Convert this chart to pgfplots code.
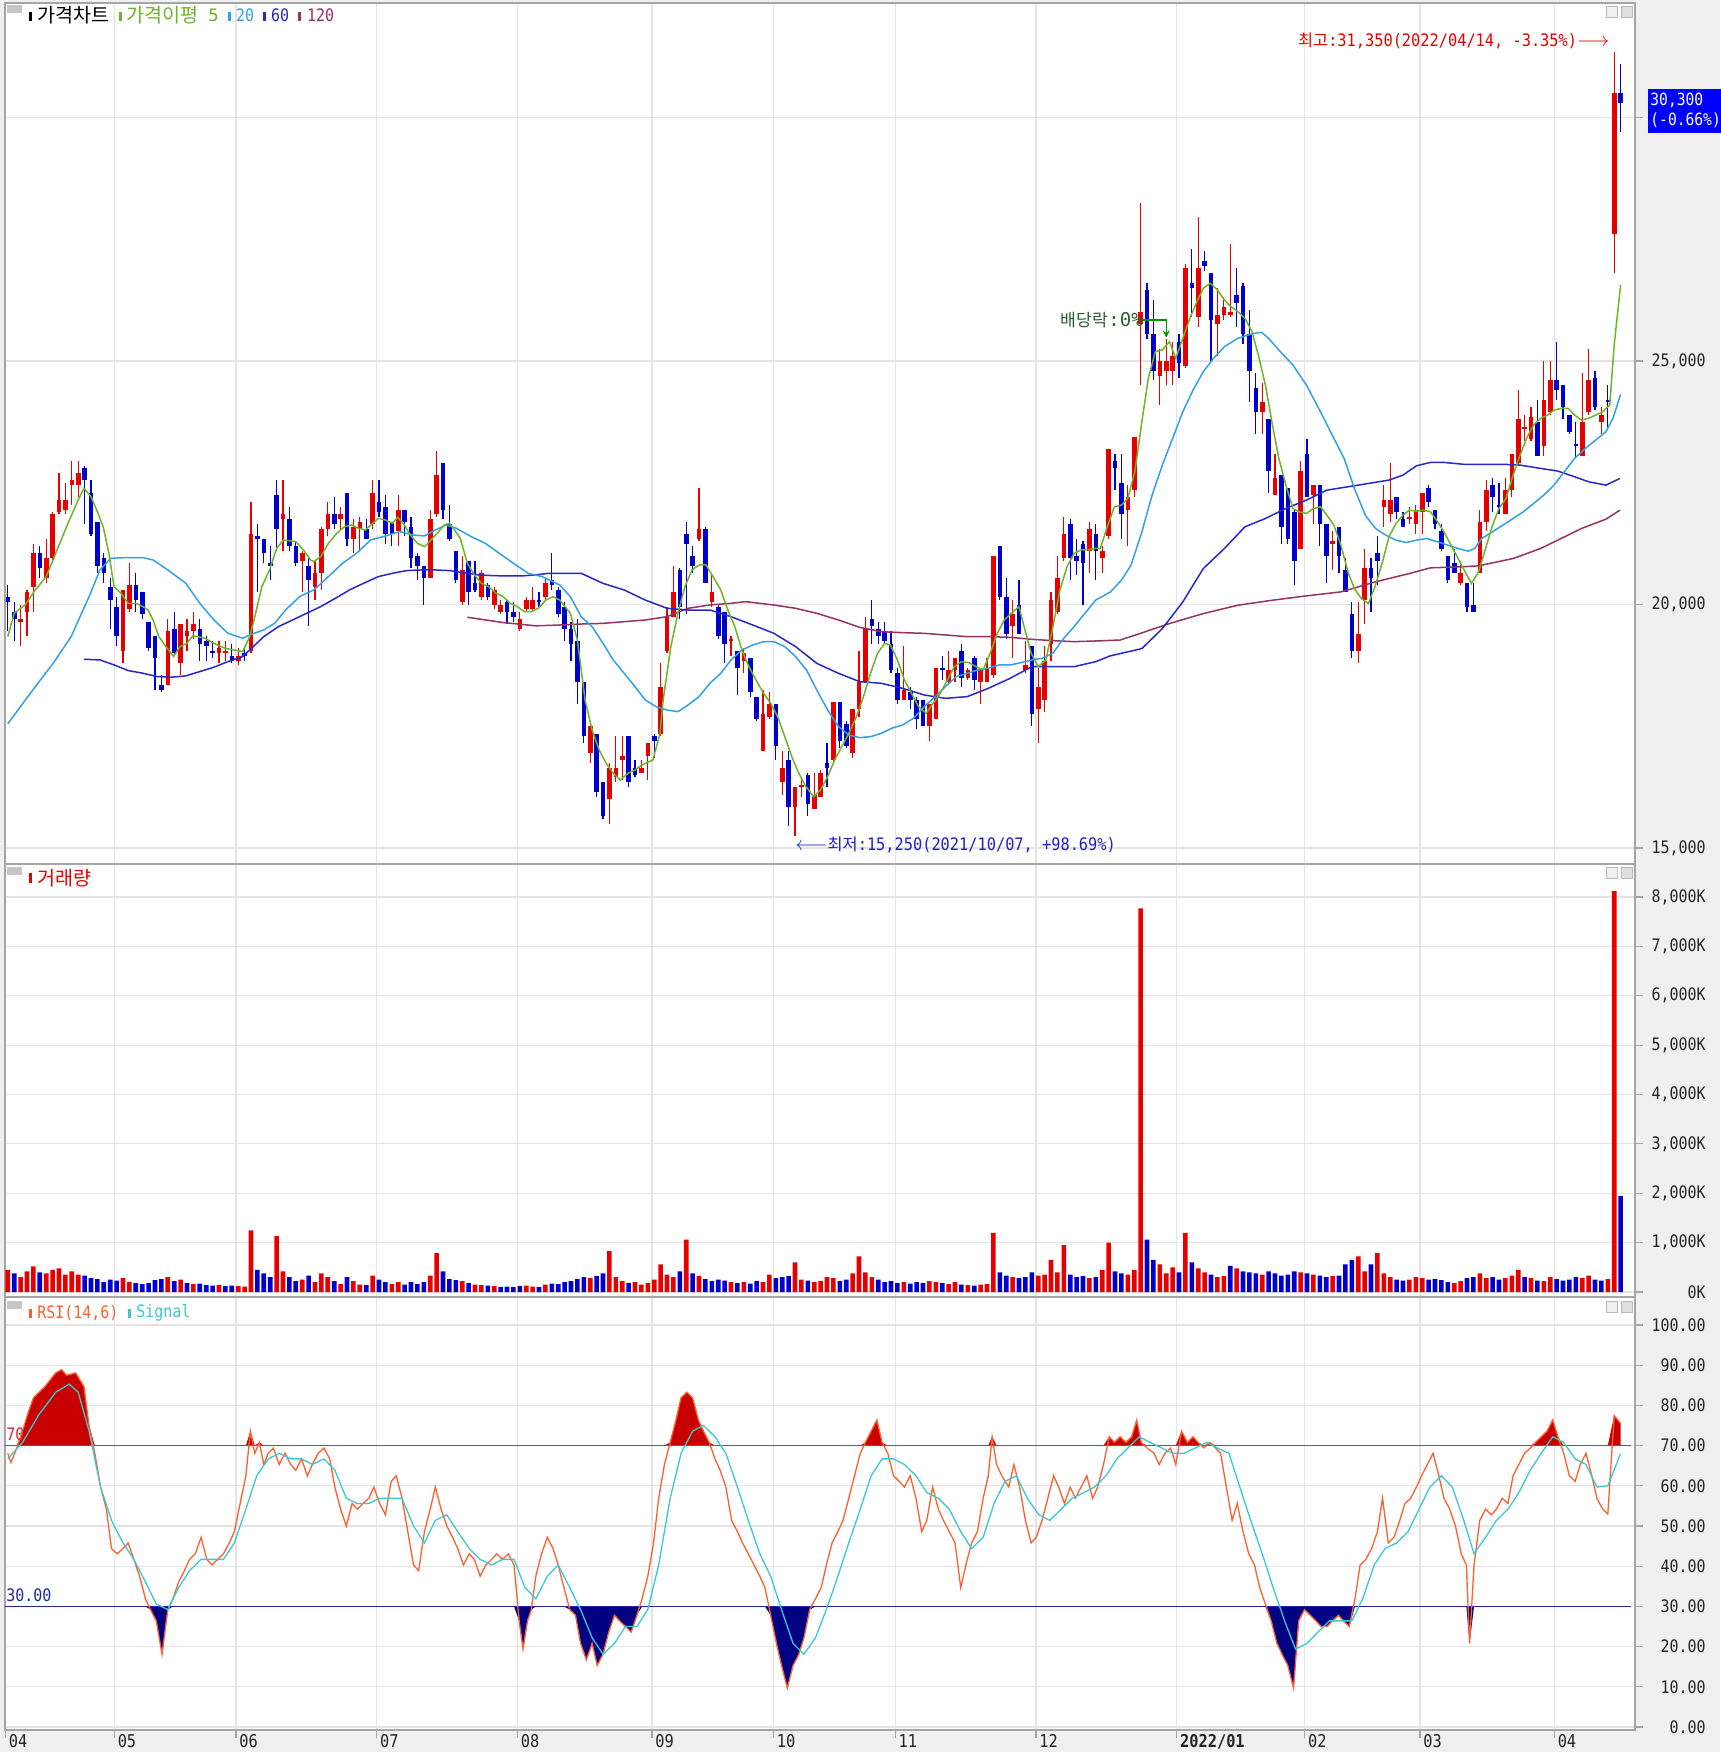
\documentclass[border=0pt]{standalone}
\usepackage{fontspec}
\usepackage{graphicx}
\usepackage{pgfplots}
\pgfplotsset{compat=1.18}
\usepackage{pgfplotstable}
\newfontfamily\kr{Noto Sans CJK KR}
\newfontfamily\mono{DejaVu Sans Mono}
\newcommand\fs[1]{\fontsize{#1}{#1}\selectfont}
\newcommand\nr[1]{\scalebox{0.87}[1]{#1}}
\definecolor{upred}{RGB}{230,0,0}
\definecolor{dnblue}{RGB}{0,0,205}
\definecolor{mafive}{RGB}{110,180,40}
\definecolor{matwenty}{RGB}{50,160,230}
\definecolor{masixty}{RGB}{40,40,200}
\definecolor{maonetwenty}{RGB}{150,50,100}
\definecolor{rsiline}{RGB}{255,95,45}
\definecolor{sigline}{RGB}{60,200,210}
\definecolor{fillred}{RGB}{200,0,0}
\definecolor{fillnavy}{RGB}{0,0,130}
\definecolor{line70}{RGB}{225,40,40}
\definecolor{line30}{RGB}{30,40,160}
\definecolor{gridc}{RGB}{228,228,228}
\definecolor{bgc}{RGB}{240,240,240}
\definecolor{framec}{RGB}{165,165,165}
\definecolor{lab}{RGB}{35,35,35}
\definecolor{exdivtxt}{RGB}{40,100,40}
\definecolor{exdivline}{RGB}{0,150,0}
\definecolor{lowtxt}{RGB}{30,30,200}
\definecolor{boxblue}{RGB}{0,0,255}

\pgfplotstableread{
i o h l c v u w
0 20150 20400 19450 20050 450 0 1
1 19850 20050 19250 19700 380 0 0
2 19650 20000 19150 19700 300 1 1
3 19850 20300 19350 20250 420 1 1
4 20350 21250 19850 21050 520 1 1
5 21050 21200 20550 20750 400 0 0
6 20550 21350 20450 20950 380 1 1
7 20950 21900 20900 21850 450 1 1
8 21900 22700 21850 22150 480 1 1
9 21950 22500 21850 22150 350 1 1
10 22450 22950 22050 22550 420 1 1
11 22450 22950 22200 22700 350 1 1
12 22800 22850 21650 22550 330 0 0
13 22300 22550 21400 21450 280 0 0
14 21700 21700 20650 20800 260 0 0
15 20950 21050 20450 20650 200 0 0
16 20350 20550 19500 20100 250 0 0
17 19950 20150 19150 19350 230 0 0
18 19050 20300 18800 20300 280 1 1
19 19900 20850 19850 20400 200 1 1
20 20400 20650 19850 20100 180 0 0
21 20250 20250 19700 19800 160 0 0
22 19650 19650 19050 19100 180 0 0
23 19350 19350 18250 18900 240 0 0
24 18350 18550 18200 18250 260 0 0
25 18350 19700 18350 19450 300 1 1
26 19500 19850 18950 19000 220 0 0
27 18800 19600 18550 19600 250 1 1
28 19350 19700 19050 19450 180 1 0
29 19450 19850 19300 19600 160 1 1
30 19500 19700 18850 19200 170 0 0
31 19250 19350 18850 19150 140 0 0
32 19050 19250 18900 19000 130 0 0
33 19000 19250 18800 19100 140 1 1
34 19000 19250 18850 19050 120 1 0
35 18950 19200 18800 18850 130 0 0
36 18850 19100 18750 18950 120 1 1
37 19000 19150 18850 18950 110 0 1
38 19050 22100 19000 21450 1250 1 1
39 21400 21650 20250 21350 450 0 0
40 21350 21350 20850 21050 380 0 0
41 20850 21200 20500 20800 300 0 0
42 22250 22550 21100 21550 1130 0 1
43 21750 22550 21100 21850 420 1 1
44 21750 22000 21100 21200 300 0 0
45 21200 21300 20800 20850 220 0 0
46 20900 21100 20250 21050 250 1 1
47 20800 20950 19550 20500 330 0 0
48 20350 20900 20100 20650 200 1 1
49 20650 21600 20300 21550 380 1 1
50 21550 22100 21400 21850 300 1 1
51 21850 22200 21550 21650 220 0 0
52 21750 22000 21550 21850 160 1 1
53 22300 22300 21200 21350 300 0 0
54 21350 21750 21050 21600 220 1 1
55 21550 21800 21100 21700 150 1 1
56 21550 21750 21350 21350 140 0 0
57 21650 22550 21550 22300 330 1 1
58 22100 22550 21800 21900 250 0 0
59 22000 22250 21250 21450 200 0 0
60 21700 21700 21200 21450 160 0 1
61 21500 22250 21200 21950 200 1 1
62 21950 21950 21400 21700 150 0 0
63 21600 21800 20750 20950 200 0 0
64 21000 21050 20500 20800 160 0 0
65 20800 20800 20000 20550 200 0 0
66 20550 21950 20550 21750 330 1 1
67 21850 23150 21800 22650 790 1 1
68 22900 22900 21750 21950 420 0 0
69 21650 22050 21300 21350 260 0 0
70 21100 21100 20450 20500 240 0 0
71 20050 21000 20000 20700 220 1 1
72 20900 20900 20000 20250 180 0 0
73 20450 20900 20250 20300 150 0 1
74 20150 20700 20100 20650 140 1 1
75 20400 20450 20100 20150 130 0 0
76 20000 20350 19900 20300 120 1 1
77 19850 20100 19800 20000 100 1 0
78 20050 20100 19600 19850 110 0 0
79 19850 20050 19650 19750 100 0 0
80 19500 19850 19450 19700 120 1 0
81 19900 20150 19850 20100 130 1 1
82 19900 20350 19850 20100 110 1 1
83 20100 20250 19950 20050 100 0 0
84 20150 20550 20100 20450 150 1 1
85 20500 21050 20300 20400 170 0 0
86 20300 20350 19750 19800 160 0 0
87 19950 20050 19250 19500 200 0 0
88 19500 19650 18850 19200 220 0 0
89 19250 19700 17950 18400 260 0 0
90 18400 18400 17150 17300 300 0 0
91 16950 17500 16750 17500 280 1 1
92 17350 17350 16050 16150 320 0 0
93 16350 16350 15600 15650 380 0 0
94 16000 16750 15500 16650 830 1 1
95 16450 17300 16350 16650 300 1 1
96 16800 17300 16400 16900 220 1 1
97 17300 17300 16250 16350 180 0 0
98 16650 16800 16450 16500 200 0 1
99 16550 16800 16550 16650 150 1 1
100 16900 17150 16400 17150 180 1 1
101 17300 17350 16850 17200 250 0 1
102 17350 18800 17300 18300 560 1 1
103 19050 19950 19000 19750 350 1 1
104 19750 20800 19750 20250 300 1 1
105 20700 20750 19700 19950 420 0 0
106 21450 21700 19800 21250 1060 0 1
107 21000 21200 20650 20800 380 0 0
108 21350 22400 21300 21550 320 1 1
109 21550 21600 20450 20450 260 0 0
110 20050 20650 19950 20250 220 1 0
111 19950 20000 19300 19350 250 0 0
112 19850 19850 18800 19200 230 0 0
113 19250 19350 18950 19300 200 1 1
114 19050 19050 18150 18700 180 0 0
115 18850 19100 18600 19000 200 1 1
116 18900 18900 18100 18200 170 0 0
117 18100 18100 17600 17650 220 0 0
118 17000 18250 17000 17750 200 1 1
119 17700 18200 17650 17950 350 1 1
120 17950 17950 16800 17100 280 0 0
121 16350 17000 16100 16650 300 1 0
122 16800 17000 15450 15850 320 0 0
123 15850 16250 15250 16250 600 1 1
124 16250 16450 16050 16300 250 1 1
125 16500 16550 15650 15900 230 0 0
126 15800 16550 15800 16100 200 1 1
127 16050 16600 16050 16550 220 1 1
128 16750 17150 16250 16650 300 0 1
129 16800 18000 16750 18000 280 1 1
130 18000 18000 17050 17200 220 0 0
131 17550 17600 17050 17100 250 0 0
132 16950 17850 16850 17850 380 1 1
133 17850 19050 17700 18400 720 1 1
134 18400 19750 18400 19500 400 1 1
135 19700 20100 19200 19550 300 0 1
136 19500 19650 19200 19350 250 0 0
137 19450 19650 19200 19250 200 0 0
138 19200 19450 18600 18650 220 0 0
139 18600 18700 17950 18050 180 0 0
140 18050 19150 18050 18250 200 1 1
141 18200 18300 17850 18050 170 0 0
142 18050 18100 17450 17650 200 0 0
143 18050 18050 17500 17500 180 0 0
144 17500 17950 17200 17950 220 1 1
145 17650 18700 17650 18700 200 1 1
146 18700 18950 18450 18650 180 0 0
147 18400 19050 18350 18650 160 1 1
148 18650 18900 18400 18900 200 1 1
149 19050 19200 18300 18500 150 0 0
150 18500 18700 18450 18650 140 1 1
151 18900 18950 18250 18450 130 0 0
152 18400 18700 17950 18650 150 1 1
153 18400 18900 18400 18700 160 1 1
154 18550 21000 18500 21000 1200 1 1
155 21200 21200 20100 20150 400 0 0
156 20150 20550 19300 19400 330 0 0
157 19550 20100 18900 19800 300 1 1
158 20000 20500 19400 19400 280 0 0
159 18650 19250 18600 18750 300 1 0
160 19150 19150 17500 17750 400 0 0
161 17850 18700 17150 18300 330 1 1
162 18050 19150 17800 18850 350 1 1
163 19200 20250 18850 20100 650 1 1
164 19850 21000 19800 20550 400 1 1
165 20950 21800 20900 21450 950 1 1
166 21650 21750 20500 20950 350 0 0
167 21000 21350 20600 20900 300 0 0
168 21250 21300 20000 20850 320 0 0
169 21100 21700 20650 21550 280 1 1
170 21450 21650 20500 21100 300 0 0
171 20950 21200 20650 21100 450 1 1
172 21400 23200 21350 23200 1000 1 1
173 22950 23100 22350 22800 420 0 0
174 22500 23100 21350 21850 380 0 0
175 21950 22450 21200 22200 350 1 1
176 22350 23450 22200 23450 450 1 1
177 25750 28250 24500 26000 7770 1 1
178 26450 26600 25450 25550 1060 0 0
179 25550 26250 24600 24800 650 0 0
180 24700 25250 24100 25000 560 1 1
181 24800 25450 24500 25000 380 1 1
182 24800 25400 24500 25100 500 1 1
183 25400 25550 24650 24950 400 0 0
184 24900 27000 24850 26900 1200 1 1
185 26600 27300 25900 26500 600 0 0
186 25900 27950 25700 26900 480 1 1
187 27050 27250 26850 26950 400 0 1
188 26800 26800 25000 25850 350 0 0
189 25750 26500 25100 25950 300 1 1
190 25950 26300 25850 26100 320 1 1
191 25950 27400 25900 26000 530 1 0
192 26350 26900 25700 26200 480 0 1
193 26550 26600 25350 25550 420 0 0
194 25550 26050 24150 24800 400 0 0
195 24450 24750 23500 23950 380 0 0
196 23950 24550 23500 24150 350 1 1
197 23800 23800 22300 22750 420 0 0
198 22250 23100 22250 22600 380 1 0
199 22650 22650 21250 21600 330 0 0
200 22400 22400 21250 21350 350 0 0
201 21900 21950 20400 20900 420 0 0
202 21150 22950 21150 22750 400 1 1
203 23100 23400 22200 22200 380 0 0
204 22250 22450 21650 22450 350 1 1
205 22450 22450 21200 21650 330 0 0
206 21650 21650 20450 21000 300 0 0
207 21250 21500 20700 21300 320 1 1
208 21600 21600 20650 21000 330 0 0
209 20700 20950 20250 20250 560 0 0
210 19800 20050 18900 19050 650 0 0
211 19050 20050 18800 19400 720 1 1
212 20100 21150 19600 20750 420 1 1
213 20750 20950 19850 20550 560 0 0
214 21050 21400 20400 20900 790 0 1
215 22000 22450 21600 22150 380 1 1
216 21850 22900 21700 22150 300 1 1
217 22200 22200 21750 21900 250 0 0
218 21750 21900 21600 21600 230 0 0
219 21750 22000 21650 21800 250 1 1
220 21650 22050 21450 21950 300 1 1
221 21900 22300 21450 22300 280 1 1
222 22400 22450 22000 22100 250 0 0
223 21950 21950 21550 21650 260 0 0
224 21500 21650 21100 21150 240 0 0
225 21000 21000 20450 20500 200 0 0
226 20850 21150 20650 20650 180 0 1
227 20450 20900 20400 20650 220 1 1
228 20450 20450 19850 19950 280 0 0
229 20000 20450 19850 19850 300 0 0
230 20650 21950 20650 21700 380 1 1
231 21700 22550 21500 22350 280 1 1
232 22450 22600 21900 22200 300 0 0
233 22050 22500 21850 22000 250 0 0
234 21850 22600 21850 22350 280 1 1
235 22350 23100 22200 23100 330 1 1
236 22900 24400 22850 23800 450 1 1
237 23600 23900 23350 23650 300 1 0
238 23400 24050 23350 23850 280 1 1
239 23750 24200 23050 23050 230 0 0
240 23250 25000 23050 24200 220 1 1
241 23950 25000 23900 24600 300 1 1
242 24600 25400 24200 24400 260 0 0
243 24500 24500 23800 24050 230 0 0
244 23900 23900 23500 23550 250 0 0
245 23300 23750 23000 23250 300 0 0
246 23050 24750 23050 23750 280 1 1
247 23950 25250 23900 24600 330 1 1
248 24650 24800 24000 24050 250 0 0
249 23750 24050 23500 23900 230 1 0
250 24200 24500 23600 24150 263 0 1
251 27600 31350 26800 30500 8120 1 1
252 30500 31100 29700 30300 1940 0 0
}\candles

\pgfplotstableread{
i p
0 19342
1.0 19821
2.7 19992
4.3 20300
6.0 20573
7.7 21121
9.4 21668
11.0 22147
11.9 22386
13.0 22215
14.1 21873
14.9 21599
15.8 21052
16.6 20368
17.7 20231
18.8 20026
20.0 20026
21.1 19958
21.9 19889
22.7 19684
23.6 19342
24.7 19137
25.9 18932
26.9 19137
28.0 19205
28.9 19356
29.7 19342
30.8 19308
32.2 19205
33.9 19103
35.3 19069
36.7 19034
37.8 19342
38.6 19753
39.7 20368
40.9 20710
42.0 21155
43.1 21326
43.9 21312
45.0 21292
46.2 21121
47.3 20915
47.8 20881
48.9 20984
50.1 21257
51.4 21463
52.6 21599
53.7 21634
54.8 21565
55.9 21531
57.0 21668
57.9 21770
59.0 21736
60.1 21668
60.9 21791
61.8 21668
62.9 21428
64.0 21257
65.1 21189
65.9 21292
67.1 21463
68.2 21634
69.0 21668
69.8 21531
70.7 21360
71.8 20847
72.9 20608
74.0 20437
75.1 20368
76.3 20231
77.4 20163
78.5 20026
79.6 19958
80.7 19855
81.8 19855
82.9 19924
84.1 20095
85.2 20163
86.25 20093
87.9 19820
89.0 19272
90.2 18041
91.3 17425
92.4 17014
93.5 16740
94.6 16535
95.7 16398
96.9 16535
98.0 16603
99.1 16706
100.8 16809
101.9 17356
102.4 18041
103.6 19136
104.7 19820
105.8 20367
106.9 20709
108.0 20812
109.1 20812
110.2 20572
111.4 20299
112.5 19888
113.6 19546
114.7 19067
115.8 18725
116.9 18451
118.1 18177
119.2 17972
120.3 17698
121.4 17288
122.5 16877
123.6 16535
124.7 16262
125.9 16056
127.0 16193
128.1 16467
129.2 16809
130.3 17082
131.4 17356
132.6 17698
133.7 18109
134.8 18588
135.9 19000
137.0 19204
137.9 19170
139.0 18862
140.1 18451
141.2 18177
142.3 17904
143.5 17767
144.6 17972
145.7 18177
146.8 18451
147.9 18725
149.0 18828
150.2 18807
151.3 18725
152.4 18657
153.5 19000
154.6 19409
155.7 19683
156.8 19820
158.0 19957
158.8 19546
159.9 19000
161.0 18725
162.2 18862
163.3 19546
164.4 20299
165.5 20778
166.6 21051
167.7 21120
168.8 21120
170.0 21154
170.7 21151
171.8 21596
172.9 22007
174.0 22041
175.0 22178
176.1 22726
177.2 23753
178.2 24644
179.3 25192
180.4 25226
181.5 25397
182.5 25055
183.6 25466
184.7 25877
185.8 26219
186.8 26493
187.9 26596
189.0 26459
190.1 26253
191.1 26116
192.2 26014
193.3 25877
194.4 25603
195.4 25123
196.5 24507
197.6 23685
198.6 23000
199.7 22452
200.8 21973
201.8 21904
202.9 21870
204.0 21973
205.1 22007
206.1 21836
207.2 21630
208.3 21219
209.4 20671
210.4 20329
211.5 20123
212.6 20021
213.7 20397
214.8 20877
215.8 21390
216.9 21664
218.0 21836
219.0 21938
220.1 21918
221.2 21938
222.3 21904
223.4 21699
224.4 21493
225.5 21219
226.6 20945
227.7 20671
228.7 20432
229.8 20671
230.9 21151
232.0 21630
233.0 21973
234.1 22178
235.2 22658
236.3 23069
237.3 23411
238.4 23685
239.5 23822
240.6 23890
241.6 23993
242.7 24027
243.8 24027
244.8 23890
245.9 23788
247.0 23822
248.1 23890
249.2 23959
250.3 24096
251.0 25329
252.0 26562
}\mafivetab

\pgfplotstableread{
i p
0 17550
1.6 17837
4.3 18316
7.1 18795
9.9 19342
12.7 20163
14.4 20710
16.1 20950
18.3 20963
21.1 20963
22.7 20915
25.0 20710
27.8 20437
30.0 20026
32.2 19684
34.4 19411
36.7 19308
37.8 19377
40.0 19479
41.7 19616
43.4 19889
45.6 20163
47.8 20300
50.1 20573
52.3 20847
54.5 21052
56.7 21326
59.0 21408
61.2 21497
63.4 21428
65.1 21408
66.8 21531
68.5 21634
70.1 21565
72.4 21394
74.6 21257
76.8 21052
79.0 20847
81.3 20642
83.5 20573
86.25 20401
87.9 20162
89.6 19751
91.3 19546
93.0 19204
94.6 18862
96.3 18588
98.0 18314
99.6 18041
101.3 17904
103.0 17835
104.7 17801
106.3 17938
108.0 18109
109.7 18383
111.4 18588
113.0 18862
114.7 19067
116.4 19170
118.1 19238
119.7 19238
121.4 19136
123.1 18930
124.8 18657
126.4 18246
128.1 17835
129.8 17493
131.4 17322
133.1 17267
134.8 17288
136.5 17356
138.1 17459
139.8 17527
141.5 17664
143.2 17904
144.9 18109
146.5 18314
148.2 18520
149.9 18588
151.6 18657
153.2 18691
154.9 18759
156.6 18759
158.3 18807
160.0 18862
161.6 18896
163.3 19000
165.0 19307
166.6 19546
168.3 19820
170.0 20093
172.3 20260
174.0 20500
175.5 20808
177.2 21493
178.8 22247
180.4 22863
182.0 23411
183.6 23959
185.2 24404
186.8 24781
188.4 25055
190.1 25295
192.2 25466
193.8 25534
194.8 25568
195.9 25589
197.0 25466
198.6 25226
200.8 24918
202.9 24507
205.1 23959
207.2 23411
208.8 23000
210.4 22384
212.1 21836
213.7 21562
215.3 21425
216.9 21322
218.5 21274
220.1 21322
221.7 21356
223.4 21288
225.0 21219
226.6 21151
228.2 21096
229.2 21151
230.3 21356
232.0 21493
233.6 21630
235.2 21767
236.8 21904
238.4 22075
240.0 22247
241.6 22452
243.2 22726
244.8 23000
246.5 23206
248.1 23377
249.7 23548
250.8 23822
252.0 24315
}\matwentytab

\pgfplotstableread{
i p
11.9 18877
14.4 18863
16.6 18761
18.8 18645
21.1 18590
23.3 18522
25.5 18508
27.8 18535
30.0 18624
32.2 18713
34.4 18829
36.7 18932
37.8 19069
40.0 19342
42.3 19548
44.5 19684
46.7 19821
48.9 19958
51.2 20129
53.4 20300
55.6 20437
57.9 20573
60.1 20642
62.3 20697
64.5 20710
66.8 20710
69.0 20697
71.2 20655
73.5 20608
75.7 20594
77.9 20587
80.2 20587
82.4 20608
84.6 20642
86.25 20641
89.6 20641
93.0 20435
96.3 20299
99.6 20093
103.0 19923
106.3 19888
109.7 19888
113.0 19751
116.4 19580
119.7 19409
123.1 19136
126.4 18793
129.8 18588
133.1 18417
136.5 18383
139.8 18280
143.2 18143
146.5 18075
149.9 18109
153.2 18280
156.6 18485
160.0 18725
163.3 18725
166.6 18725
170.0 18828
172.2 18944
177.2 19096
180.4 19507
183.6 20055
186.8 20740
190.1 21151
193.3 21596
196.5 21767
199.7 21973
202.9 22144
206.1 22349
209.4 22418
212.6 22486
215.8 22555
218.0 22658
220.1 22849
222.3 22918
224.4 22918
227.7 22877
230.9 22877
234.1 22877
236.3 22863
239.5 22795
242.2 22740
244.8 22623
247.0 22521
249.7 22452
251.9 22589
}\masixtytab

\pgfplotstableread{
i p
71.8 19739
77.3 19632
82.5 19563
86.25 19580
89.6 19600
93.0 19614
96.3 19648
99.6 19683
103.0 19751
106.3 19923
109.7 19991
113.0 20025
115.3 20059
117.5 20025
119.7 19991
123.1 19923
126.4 19820
129.8 19683
133.1 19532
136.5 19443
139.8 19423
143.2 19409
146.5 19375
149.9 19341
153.2 19341
156.6 19327
160.0 19286
163.3 19259
166.6 19238
170.0 19252
173.8 19272
176.1 19370
181.5 19610
186.8 19815
192.2 19986
197.6 20089
202.9 20178
208.3 20260
213.7 20466
219.0 20637
222.3 20754
227.1 20774
229.8 20795
235.2 20945
239.5 21151
242.7 21356
245.9 21562
249.7 21753
251.9 21938
}\maonetwentytab

\pgfplotstableread{
i v
0 68.1
0.5 65.8
1.4 69.4
2.3 73.6
3.1 77.8
4.0 81.9
5.8 84.7
7.5 88.1
8.4 88.9
9.2 87.5
10.6 88.1
11.9 84.7
12.7 75.0
13.6 68.1
14.5 59.7
15.4 54.2
16.2 44.4
17.1 43.1
18.0 44.4
18.8 45.8
19.7 41.7
20.6 37.5
21.5 31.9
22.3 29.2
23.2 26.4
24.1 18.1
25.0 29.2
25.8 31.9
26.7 36.1
27.6 38.9
28.4 41.7
29.3 43.1
30.2 47.2
31.1 41.7
31.9 40.3
32.8 41.7
33.7 43.1
34.6 45.8
35.4 48.6
36.3 55.6
37.2 62.5
37.9 73.6
38.6 68.1
39.3 70.8
40.0 65.3
40.7 68.1
41.5 69.4
42.4 65.3
43.3 68.1
44.2 65.3
45.0 63.9
45.9 66.7
46.8 62.5
47.6 65.3
48.5 68.1
49.4 69.4
50.3 66.7
51.1 59.7
52.0 54.2
52.9 50.0
53.8 55.6
54.6 54.2
55.5 55.6
56.4 56.9
57.2 59.7
58.1 55.6
59.0 52.8
59.9 61.1
60.7 62.5
61.6 56.9
62.5 48.6
63.4 40.3
64.2 38.9
65.1 48.6
66.0 54.2
66.8 59.7
67.7 54.2
68.6 50.0
69.5 47.2
70.3 44.4
71.2 40.3
72.1 43.1
72.9 41.7
73.8 37.5
74.7 40.3
75.6 41.7
76.4 43.1
77.3 41.7
78.2 43.1
79.1 40.3
79.9 26.4
80.5 19.4
81.2 26.4
81.8 29.2
82.5 37.5
83.4 43.1
84.3 47.2
85.2 44.4
86.0 40.3
86.9 34.7
87.8 29.2
88.7 27.8
89.5 20.8
90.4 16.7
91.3 20.8
92.1 15.3
93.0 18.1
93.9 23.6
94.8 27.8
95.6 26.4
96.5 25.0
97.4 23.6
98.3 27.8
99.1 31.9
100.0 37.5
100.9 45.8
101.7 56.9
102.6 65.3
103.5 70.8
104.4 76.4
105.2 81.9
106.1 83.3
107.0 81.9
107.9 76.4
108.7 73.6
109.6 70.8
110.5 66.7
111.3 63.9
112.2 59.7
113.1 51.4
114.0 48.6
114.8 45.8
115.7 43.1
116.6 40.3
117.5 37.5
118.3 34.7
119.2 27.8
120.1 20.8
120.9 15.3
121.8 9.7
122.7 15.3
123.6 18.1
124.4 22.2
125.3 29.2
126.2 31.9
127.1 34.7
127.9 40.3
128.8 45.8
129.7 48.6
130.5 51.4
131.4 56.9
132.3 62.5
133.2 68.1
134.0 70.8
134.9 73.6
135.8 76.4
136.6 70.8
137.5 68.1
138.4 62.5
139.3 61.1
140.1 59.7
141.0 62.5
141.9 56.9
142.8 48.6
143.6 51.4
144.5 59.7
145.4 54.2
146.2 51.4
147.1 48.6
148.0 45.8
148.9 34.7
149.7 40.3
150.6 45.8
151.5 48.6
152.4 56.9
153.2 62.5
153.8 72.2
154.5 65.3
155.3 62.5
156.4 59.7
157.2 65.3
158.1 59.7
159.0 51.4
159.9 45.8
160.7 47.2
161.6 51.4
162.5 56.9
163.4 62.5
164.2 59.7
165.1 55.6
166.0 59.7
166.8 56.9
167.7 59.7
168.6 62.5
169.5 56.9
170.3 59.7
171.2 65.3
172.1 72.2
172.9 70.8
173.8 72.2
174.7 70.8
175.6 72.2
176.4 76.4
177.1 70.8
178.0 69.4
179.1 68.1
179.9 65.3
180.8 68.1
181.7 69.4
182.5 65.3
183.4 73.6
184.3 70.8
185.2 72.2
186.0 70.8
186.9 69.4
187.8 70.8
188.7 69.4
189.5 68.1
190.4 59.7
191.3 51.4
192.1 55.6
193.0 48.6
193.9 43.1
194.8 40.3
195.6 34.7
196.5 30.6
197.4 26.4
198.3 20.8
199.1 18.1
200.0 15.3
200.9 9.7
201.7 26.4
202.6 29.2
203.5 27.8
204.4 26.4
205.2 25.0
206.1 25.0
207.0 26.4
207.9 27.8
208.7 26.4
209.6 25.0
210.5 31.9
211.3 40.3
212.2 41.7
213.1 44.4
214.0 48.6
214.8 56.9
215.7 45.8
216.6 47.2
217.5 51.4
218.3 55.6
219.2 56.9
220.1 59.7
220.9 62.5
221.8 65.3
222.7 68.1
223.6 62.5
224.4 56.9
225.3 54.2
226.2 50.0
227.1 43.1
227.9 40.3
228.4 20.8
229.1 40.3
230.0 51.4
230.9 54.2
231.8 52.8
232.6 54.2
233.5 56.9
234.4 55.6
235.2 62.5
236.1 65.3
237.0 68.1
237.9 69.4
238.7 70.8
239.6 72.2
240.5 73.6
241.4 76.4
242.2 72.2
243.1 68.1
244.0 62.5
244.9 61.1
245.7 65.3
246.6 68.1
247.5 62.5
248.3 56.9
249.2 54.2
250.0 53.0
251.0 77.5
251.5 76.5
252.0 75.5
}\rsitab

\pgfplotstableread{
i v
0 66.7
2.3 70.8
4.9 77.8
7.5 83.3
9.6 85.3
11.0 83.3
12.7 73.6
14.5 59.7
16.2 51.4
18.0 45.8
19.7 41.7
21.5 36.1
23.2 30.6
25.0 29.2
26.7 34.7
28.4 38.9
30.2 41.7
31.9 41.7
33.7 41.7
35.4 45.8
37.2 54.2
38.9 62.5
40.7 66.7
42.4 68.1
44.2 66.7
45.9 66.7
47.6 65.3
49.4 66.7
51.1 63.9
52.9 56.9
54.6 55.6
56.4 55.6
58.1 56.9
59.9 56.9
61.6 56.9
63.4 50.0
65.1 45.8
66.8 51.4
68.6 52.8
70.3 48.6
72.1 44.4
73.8 41.7
75.6 40.3
77.3 41.7
79.1 41.7
80.8 34.7
82.5 31.9
84.3 37.5
86.0 40.3
87.8 34.7
89.5 29.2
91.3 22.2
93.0 18.1
94.8 20.8
96.5 25.0
98.3 25.0
100.0 29.2
101.7 40.3
103.5 56.9
105.2 68.1
107.0 73.6
108.7 75.0
110.5 72.2
112.2 68.1
114.0 59.7
115.7 51.4
117.5 43.1
119.2 37.5
120.9 29.2
122.7 20.8
124.4 18.1
126.2 22.2
127.9 29.2
129.7 37.5
131.4 45.8
133.2 54.2
134.9 62.5
136.6 66.7
138.4 66.7
140.1 65.3
141.9 62.5
143.6 58.3
145.4 56.9
147.1 54.2
148.9 48.6
150.6 44.4
152.4 47.2
154.1 55.6
155.8 61.1
157.6 62.5
159.3 56.9
161.1 52.8
162.8 51.4
164.6 54.2
166.3 56.9
168.1 58.3
169.8 59.7
171.6 62.5
173.3 66.7
175.0 69.4
176.8 72.2
178.5 70.8
180.3 69.4
182.0 68.1
183.8 68.1
185.5 69.4
187.3 70.8
189.0 69.4
190.8 68.1
192.5 59.7
194.2 51.4
196.0 43.1
197.7 34.7
199.5 26.4
201.2 19.4
203.0 20.8
204.7 23.6
206.5 26.4
208.2 26.4
210.0 26.4
211.7 31.9
213.5 40.3
215.2 44.4
217.0 45.8
218.8 48.6
220.5 54.2
222.2 59.7
224.0 62.5
225.7 59.7
227.5 51.4
229.1 43.1
230.9 47.2
232.6 51.4
234.4 54.2
236.1 58.3
237.9 63.9
239.6 68.1
241.4 72.2
243.1 70.8
244.9 66.7
246.6 65.3
248.3 59.7
250.0 60.0
252.0 68.0
}\sigtab

\pgfplotsset{
  panel/.style={
    anchor=north west, scale only axis, width=815pt,
    xmin=-0.4375, xmax=254.25,
    axis background/.style={fill=white},
    axis line style={draw=framec, line width=0.8pt},
    xtick={-0.35,16.65,35.65,57.65,79.65,100.65,119.65,138.65,160.65,182.65,202.65,220.65,241.65},
    xmajorgrids, ymajorgrids,
    grid style={draw=gridc, line width=0.6pt},
    ytick pos=right, yticklabel pos=right,
    tick style={draw=framec, line width=0.6pt},
    major tick length=4pt, tick align=outside,
    yticklabel style={font=\mono\fs{8.6}, text=lab, anchor=east, inner sep=0pt, xshift=31.5pt},
  },
  toppanel/.style={panel, xticklabels={}, xtick style={draw=none}},
  wick/.style={draw=none, mark=none, forget plot,
    error bars/.cd, y dir=plus, y explicit, error mark=none,
    error bar style={draw=#1, line width=0.6pt, solid}},
  body/.style={draw=none, mark=none, forget plot,
    error bars/.cd, y dir=plus, y explicit, error mark=none,
    error bar style={draw=#1, line width=2.3pt, solid}},
}

\begin{document}
\begin{tikzpicture}
\useasboundingbox (0,0) rectangle (860pt,-876pt);
\fill[bgc] (0,0) rectangle (860pt,-876pt);

\begin{axis}[toppanel, at={(2.5pt,-1.5pt)}, height=430.5pt,
  ymin=14673, ymax=32350,
  ytick={15000,20000,25000,30000},
  yticklabels={{\nr{15,000}},{\nr{20,000}},{\nr{25,000}},{}},
  clip mode=individual]
\addplot[restrict expr to domain={\thisrow{u}}{0.5:1.5}, wick=upred]
  table[x=i, y=l, y error expr=\thisrow{h}-\thisrow{l}] {\candles};
\addplot[restrict expr to domain={\thisrow{u}}{-0.5:0.5}, wick=dnblue]
  table[x=i, y=l, y error expr=\thisrow{h}-\thisrow{l}] {\candles};
\addplot[restrict expr to domain={\thisrow{u}}{0.5:1.5}, body=upred]
  table[x=i, y expr={min(\thisrow{o},\thisrow{c})}, y error expr={max(abs(\thisrow{c}-\thisrow{o}),40)}] {\candles};
\addplot[restrict expr to domain={\thisrow{u}}{-0.5:0.5}, body=dnblue]
  table[x=i, y expr={min(\thisrow{o},\thisrow{c})}, y error expr={max(abs(\thisrow{c}-\thisrow{o}),40)}] {\candles};
\addplot[maonetwenty, line width=0.75pt, mark=none] table[x=i,y=p] {\maonetwentytab};
\addplot[masixty, line width=0.75pt, mark=none] table[x=i,y=p] {\masixtytab};
\addplot[matwenty, line width=0.75pt, mark=none] table[x=i,y=p] {\matwentytab};
\addplot[mafive, line width=0.75pt, mark=none] table[x=i,y=p] {\mafivetab};
\node[anchor=east, text=upred, inner sep=0pt] at (axis cs:250.3,31577)
  {{\kr\fs{8.2}최고}\scalebox{0.89}[1]{\mono\fs{8.6}:31,350(2022/04/14, -3.35\%)}$\longrightarrow$};
\node[anchor=west, text=lowtxt, inner sep=0pt] at (axis cs:123,15062)
  {$\longleftarrow${\kr\fs{8.2}최저}\scalebox{0.89}[1]{\mono\fs{8.6}:15,250(2021/10/07, +98.69\%)}};
\node[anchor=east, text=exdivtxt, inner sep=0pt] at (axis cs:177.4,25840)
  {{\kr\fs{8.6}배당락}{\mono\fs{9.5}:0\%}};
\draw[exdivline, line width=0.6pt, -stealth] (axis cs:177.4,25840) -- (axis cs:181,25840) -- (axis cs:181,25480);
\node[anchor=north west, fill=boxblue, text=white, inner xsep=1pt, inner ysep=2.4pt,
  align=left, font=\mono\fs{8.4}, minimum width=36pt, xshift=6.5pt]
  at (axis cs:254.25,30600) {\nr{30,300}\\[1.6pt]\nr{(-0.66\%)}};
\end{axis}

\begin{axis}[toppanel, at={(2.5pt,-432pt)}, height=216.5pt,
  ymin=-101, ymax=8668,
  ytick={0,1000,2000,3000,4000,5000,6000,7000,8000},
  yticklabels={{\nr{0K}},{\nr{1,000K}},{\nr{2,000K}},{\nr{3,000K}},{\nr{4,000K}},{\nr{5,000K}},{\nr{6,000K}},{\nr{7,000K}},{\nr{8,000K}}}]
\addplot[ybar, bar width=0.72, bar shift=0pt, fill=upred, draw=none,
  restrict expr to domain={\thisrow{w}}{0.5:1.5}] table[x=i,y=v] {\candles};
\addplot[ybar, bar width=0.72, bar shift=0pt, fill=dnblue, draw=none,
  restrict expr to domain={\thisrow{w}}{-0.5:0.5}] table[x=i,y=v] {\candles};
\end{axis}

\begin{axis}[panel, at={(2.5pt,-648.5pt)}, height=216.5pt,
  ymin=-0.75, ymax=106.97,
  ytick={0,10,20,30,40,50,60,70,80,90,100},
  yticklabels={{\nr{0.00}},{\nr{10.00}},{\nr{20.00}},{\nr{30.00}},{\nr{40.00}},{\nr{50.00}},{\nr{60.00}},{\nr{70.00}},{\nr{80.00}},{\nr{90.00}},{\nr{100.00}}},
  xtick pos=bottom,
  xticklabels={\nr{04},\nr{05},\nr{06},\nr{07},\nr{08},\nr{09},\nr{10},\nr{11},\nr{12},{\nr{\textbf{2022/01}}},\nr{02},\nr{03},\nr{04}},
  xticklabel style={font=\mono\fs{8.8}, text=lab, anchor=north west, inner sep=0pt, xshift=1.5pt, yshift=2pt}]
\addplot[draw=none, stack plots=y, forget plot] table[x=i, y expr=70] {\rsitab};
\addplot[fill=fillred, draw=none, stack plots=y, forget plot] table[x=i, y expr={max(\thisrow{v},70)-70}] {\rsitab} \closedcycle;
\addplot[draw=none, stack plots=y, forget plot] table[x=i, y expr={min(\thisrow{v},30)-max(\thisrow{v},70)}] {\rsitab};
\addplot[fill=fillnavy, draw=none, stack plots=y, forget plot] table[x=i, y expr={30-min(\thisrow{v},30)}] {\rsitab} \closedcycle;
\addplot[line70, line width=0.7pt] coordinates {(-2,70) (253.6,70)};
\addplot[line30, line width=0.7pt] coordinates {(-2,30) (253.6,30)};
\addplot[rsiline, line width=0.65pt, mark=none] table[x=i,y=v] {\rsitab};
\addplot[sigline, line width=0.65pt, mark=none] table[x=i,y=v] {\sigtab};
\node[anchor=south west, text=line70, inner sep=0pt, font=\mono\fs{8.6}] at (axis cs:-0.3,71) {\nr{70}};
\node[anchor=south west, text=line30, inner sep=0pt, font=\mono\fs{8.6}] at (axis cs:-0.3,31) {\nr{30.00}};
\end{axis}

\fill[gray!45] (3.5pt,-2.5pt) rectangle (11pt,-6.5pt);
\fill[black] (14.5pt,-6pt) rectangle (16pt,-10.5pt);
\node[anchor=west, inner sep=0pt, font=\kr\fs{9.8}] at (18.5pt,-7.8pt) {가격차트};
\fill[mafive] (59.5pt,-6pt) rectangle (61pt,-10.5pt);
\node[anchor=west, inner sep=0pt, font=\kr\fs{9.8}, text=mafive] at (62.8pt,-7.8pt) {가격이평};
\node[anchor=west, inner sep=0pt, font=\mono\fs{8.6}, text=mafive] at (104pt,-7.6pt) {5};
\fill[matwenty] (114pt,-6pt) rectangle (115.5pt,-10.5pt);
\node[anchor=west, inner sep=0pt, font=\mono\fs{8.6}, text=matwenty] at (117.8pt,-7.6pt) {\nr{20}};
\fill[masixty] (131.5pt,-6pt) rectangle (133pt,-10.5pt);
\node[anchor=west, inner sep=0pt, font=\mono\fs{8.6}, text=masixty] at (135.3pt,-7.6pt) {\nr{60}};
\fill[maonetwenty] (149pt,-6pt) rectangle (150.5pt,-10.5pt);
\node[anchor=west, inner sep=0pt, font=\mono\fs{8.6}, text=maonetwenty] at (153.3pt,-7.6pt) {\nr{120}};
\fill[gray!45] (3.5pt,-433.5pt) rectangle (11pt,-437.5pt);
\fill[upred] (14.5pt,-436.5pt) rectangle (16pt,-441.5pt);
\node[anchor=west, inner sep=0pt, font=\kr\fs{9.8}, text=upred] at (18.5pt,-439.2pt) {거래량};
\fill[gray!45] (3.5pt,-650.5pt) rectangle (11pt,-654.5pt);
\fill[rsiline] (14.5pt,-654.5pt) rectangle (16pt,-658.8pt);
\node[anchor=west, inner sep=0pt, font=\mono\fs{8.6}, text=rsiline] at (18.5pt,-656.6pt) {\nr{RSI(14,6)}};
\fill[sigline] (64pt,-654.5pt) rectangle (65.5pt,-658.8pt);
\node[anchor=west, inner sep=0pt, font=\mono\fs{8.6}, text=sigline] at (68pt,-656.6pt) {\nr{Signal}};
\foreach \yy in {3,433.5,650.5}{
  \filldraw[fill=gray!12, draw=gray!55, line width=0.4pt] (803pt,-\yy pt) rectangle (808.5pt,-\yy pt-5.5pt);
  \filldraw[fill=gray!25, draw=gray!55, line width=0.4pt] (810.5pt,-\yy pt) rectangle (816pt,-\yy pt-5.5pt);
}
\end{tikzpicture}
\end{document}
